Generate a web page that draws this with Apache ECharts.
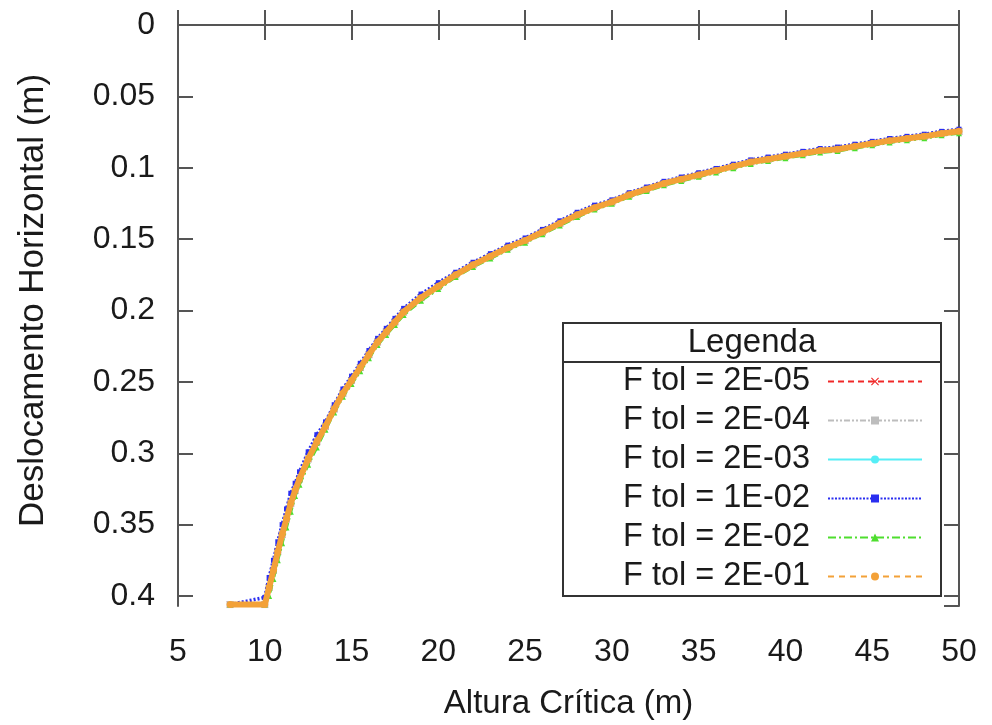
<!DOCTYPE html>
<html>
<head>
<meta charset="utf-8">
<script src="https://cdn.jsdelivr.net/npm/echarts@6/dist/echarts.min.js"></script>
<style>
html,body{margin:0;padding:0;background:#fff;}
#chart{width:992px;height:725px;}
</style>
</head>
<body>
<div id="chart"></div>
<script>
// ---- data ----
const xValues = [8, 10, 10.25, 10.5, 10.75, 11, 11.25, 11.5, 11.75, 12, 12.5, 13, 13.5, 14, 14.5, 15, 15.5, 16, 16.5, 17, 17.5, 18, 19, 20, 21, 22, 23, 24, 25, 26, 27, 28, 29, 30, 31, 32, 33, 34, 35, 36, 37, 38, 39, 40, 41, 42, 43, 44, 45, 46, 47, 48, 49, 50];
const yTol2E05 = [0.406, 0.406, 0.394, 0.382, 0.369, 0.357, 0.346, 0.335, 0.326, 0.318, 0.304, 0.292, 0.281, 0.269, 0.258, 0.249, 0.240, 0.231, 0.222, 0.215, 0.208, 0.201, 0.191, 0.183, 0.175, 0.168, 0.162, 0.156, 0.151, 0.145, 0.139, 0.133, 0.128, 0.124, 0.119, 0.115, 0.111, 0.108, 0.105, 0.102, 0.099, 0.096, 0.094, 0.092, 0.090, 0.088, 0.087, 0.085, 0.083, 0.081, 0.0795, 0.078, 0.076, 0.0745];
const yTol2E04 = [0.406, 0.406, 0.394, 0.382, 0.369, 0.357, 0.346, 0.335, 0.326, 0.318, 0.304, 0.292, 0.281, 0.269, 0.258, 0.249, 0.240, 0.231, 0.222, 0.215, 0.208, 0.201, 0.191, 0.183, 0.175, 0.168, 0.162, 0.156, 0.151, 0.145, 0.139, 0.133, 0.128, 0.124, 0.119, 0.115, 0.111, 0.108, 0.105, 0.102, 0.099, 0.096, 0.094, 0.092, 0.090, 0.088, 0.087, 0.085, 0.083, 0.081, 0.0795, 0.078, 0.076, 0.0745];
const yTol2E03 = [0.406, 0.406, 0.394, 0.382, 0.369, 0.357, 0.346, 0.335, 0.326, 0.318, 0.304, 0.292, 0.281, 0.269, 0.258, 0.249, 0.240, 0.231, 0.222, 0.215, 0.208, 0.201, 0.191, 0.183, 0.175, 0.168, 0.162, 0.156, 0.151, 0.145, 0.139, 0.133, 0.128, 0.124, 0.119, 0.115, 0.111, 0.108, 0.105, 0.102, 0.099, 0.096, 0.094, 0.092, 0.090, 0.088, 0.087, 0.085, 0.083, 0.081, 0.0795, 0.078, 0.076, 0.0745];
const yTol1E02 = [0.406, 0.401, 0.387, 0.375, 0.362, 0.350, 0.339, 0.328, 0.321, 0.313, 0.299, 0.287, 0.278, 0.266, 0.255, 0.246, 0.237, 0.228, 0.2195, 0.2125, 0.2055, 0.1985, 0.1885, 0.1805, 0.1732, 0.1662, 0.1602, 0.1542, 0.1492, 0.1432, 0.1372, 0.1312, 0.1262, 0.1225, 0.1175, 0.1135, 0.1095, 0.1065, 0.1035, 0.1005, 0.0975, 0.0945, 0.0925, 0.0905, 0.0885, 0.0865, 0.0855, 0.0835, 0.0815, 0.0795, 0.0780, 0.0765, 0.0745, 0.0730];
const yTol2E02 = [0.406, 0.406, 0.400, 0.388, 0.375, 0.363, 0.352, 0.341, 0.330, 0.322, 0.308, 0.296, 0.2835, 0.2715, 0.2605, 0.2515, 0.2425, 0.2335, 0.2241, 0.2171, 0.2101, 0.2031, 0.1931, 0.1850, 0.1765, 0.1695, 0.1635, 0.1575, 0.1525, 0.1465, 0.1405, 0.1345, 0.1293, 0.1253, 0.1203, 0.1163, 0.1123, 0.1093, 0.1063, 0.1033, 0.1003, 0.0973, 0.0953, 0.0933, 0.0913, 0.0893, 0.0883, 0.0863, 0.0843, 0.0823, 0.0808, 0.0793, 0.0773, 0.0758];
const yTol2E01 = [0.406, 0.406, 0.394, 0.382, 0.369, 0.357, 0.346, 0.335, 0.326, 0.318, 0.304, 0.292, 0.281, 0.269, 0.258, 0.249, 0.240, 0.231, 0.222, 0.215, 0.208, 0.201, 0.191, 0.183, 0.175, 0.168, 0.162, 0.156, 0.151, 0.145, 0.139, 0.133, 0.128, 0.124, 0.119, 0.115, 0.111, 0.108, 0.105, 0.102, 0.099, 0.096, 0.094, 0.092, 0.090, 0.088, 0.087, 0.085, 0.083, 0.081, 0.0795, 0.078, 0.076, 0.0745];
const seriesNames = ['F tol = 2E-05', 'F tol = 2E-04', 'F tol = 2E-03', 'F tol = 1E-02', 'F tol = 2E-02', 'F tol = 2E-01'];
const xTicks = [5, 10, 15, 20, 25, 30, 35, 40, 45, 50];
const yTicks = [0, 0.05, 0.1, 0.15, 0.2, 0.25, 0.3, 0.35, 0.4];
const xTitle = 'Altura Crítica (m)';
const yTitle = 'Deslocamento Horizontal (m)';
const legendTitle = 'Legenda';

// ---- styling ----
const FONT = "'Liberation Sans', Arial, sans-serif";
const TXT = '#1a1a1a';
const AX = '#555';
const crossPath = 'path://M0,1L1,0L5,4L9,0L10,1L6,5L10,9L9,10L5,6L1,10L0,9L4,5Z';

const seriesDefs = [
  {name: seriesNames[0], y: yTol2E05, color: '#f02828', symbol: crossPath, size: 7, width: 2, type: [6, 4], legType: [6, 4]},
  {name: seriesNames[1], y: yTol2E04, color: '#bdbdbd', symbol: 'rect', size: 7, width: 2, type: [6, 2, 2, 2, 2, 2], legType: [6, 2, 2, 2, 2, 2]},
  {name: seriesNames[2], y: yTol2E03, color: '#55eef6', symbol: 'circle', size: 6, width: 2, type: 'solid', legType: 'solid'},
  {name: seriesNames[3], y: yTol1E02, color: '#2a2ef0', symbol: 'rect', size: 5, width: 3.5, type: [2, 2], legType: [2, 1.5]},
  {name: seriesNames[4], y: yTol2E02, color: '#4ede2e', symbol: 'triangle', size: 6, width: 3, type: [8, 3, 2, 3], legType: [8, 3, 2, 3]},
  {name: seriesNames[5], y: yTol2E01, color: '#f3a138', symbol: 'circle', size: 7, width: 6, type: 'solid', legType: [6, 5]}
];

const series = seriesDefs.map((d, i) => ({
  name: d.name,
  type: 'line',
  data: xValues.map((x, k) => [x, d.y[k]]),
  showSymbol: true,
  symbol: d.symbol,
  symbolSize: d.size,
  color: d.color,
  itemStyle: {color: d.color},
  lineStyle: {color: d.color, width: d.width, type: d.type},
  z: 2 + i,
  animation: false,
  silent: true
}));

const chart = echarts.init(document.getElementById('chart'), null, {renderer: 'canvas'});

const tickFmtY = v => {
  const r = Math.round(v * 100) / 100;
  return yTicks.some(t => Math.abs(t - v) < 1e-9) ? String(r) : '';
};

const option = {
  backgroundColor: '#fff',
  animation: false,
  grid: {left: 178, right: 33, top: 25, bottom: 115},
  xAxis: [{
    type: 'value', min: xTicks[0], max: xTicks[xTicks.length - 1], interval: 5,
    position: 'bottom',
    name: xTitle, nameLocation: 'middle', nameGap: 81,
    nameTextStyle: {fontFamily: FONT, fontSize: 33, color: TXT},
    axisLine: {show: true, lineStyle: {color: AX, width: 2}},
    axisTick: {show: true, inside: true, length: 15, lineStyle: {color: AX, width: 2}},
    axisLabel: {fontFamily: FONT, fontSize: 32, color: TXT, margin: 30},
    splitLine: {show: false}
  }, {
    type: 'value', min: xTicks[0], max: xTicks[xTicks.length - 1], interval: 5,
    position: 'top',
    axisLine: {show: true, lineStyle: {color: AX, width: 2}},
    axisTick: {show: true, inside: true, length: 15, lineStyle: {color: AX, width: 2}},
    axisLabel: {show: false},
    splitLine: {show: false}
  }],
  yAxis: [{
    type: 'value', min: 0, max: 0.407, interval: 0.05, inverse: true,
    position: 'left',
    name: yTitle, nameLocation: 'middle', nameGap: 127, nameRotate: 90,
    nameTextStyle: {fontFamily: FONT, fontSize: 35, color: TXT, padding: [0, 0, 0, 30]},
    axisLine: {show: true, lineStyle: {color: AX, width: 2}},
    axisTick: {show: true, inside: true, length: 15, lineStyle: {color: AX, width: 2}},
    axisLabel: {fontFamily: FONT, fontSize: 32, color: TXT, margin: 23, formatter: tickFmtY, showMaxLabel: false},
    splitLine: {show: false}
  }, {
    type: 'value', min: 0, max: 0.407, interval: 0.05, inverse: true,
    position: 'right',
    axisLine: {show: true, lineStyle: {color: AX, width: 2}},
    axisTick: {show: true, inside: true, length: 15, lineStyle: {color: AX, width: 2}},
    axisLabel: {show: false},
    splitLine: {show: false}
  }],
  legend: {
    orient: 'vertical',
    right: 69,
    top: 365,
    align: 'right',
    padding: 0,
    itemWidth: 94,
    itemHeight: 10,
    itemGap: 6,
    selectedMode: false,
    z: 30,
    textStyle: {fontFamily: FONT, fontSize: 32.5, color: TXT, lineHeight: 31, padding: [0, 13, 0, 0]},
    data: seriesDefs.map(d => ({
      name: d.name,
      lineStyle: {width: 2, type: d.legType, color: d.color},
      itemStyle: {color: d.color}
    }))
  },
  graphic: [
    {type: 'rect', z: 20, shape: {x: 563, y: 323, width: 378, height: 273}, style: {fill: '#fff', stroke: '#333', lineWidth: 2}},
    {type: 'line', z: 21, shape: {x1: 563, y1: 362, x2: 941, y2: 362}, style: {stroke: '#333', lineWidth: 2}},
    {type: 'text', z: 21, x: 752, y: 343, style: {text: legendTitle, fontFamily: FONT, fontSize: 33, fill: TXT, align: 'center', verticalAlign: 'middle'}}
  ],
  series: series
};

chart.setOption(option);
</script>
</body>
</html>
